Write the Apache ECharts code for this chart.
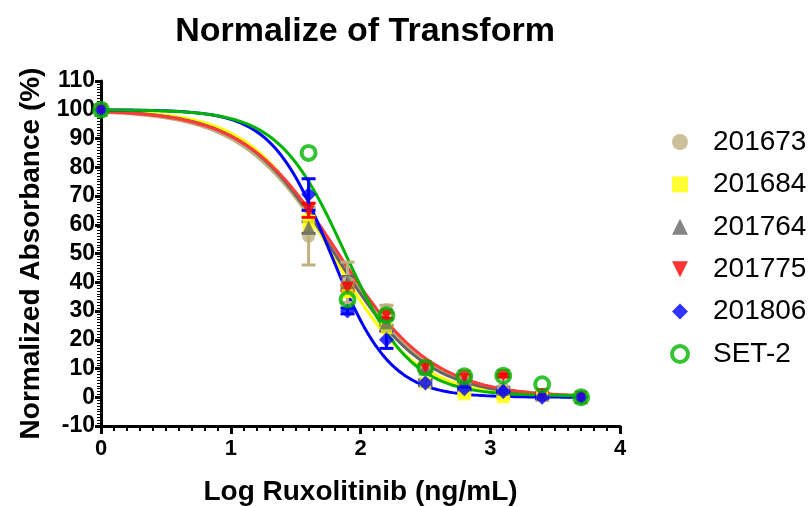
<!DOCTYPE html>
<html>
<head>
<meta charset="utf-8">
<script src="https://cdn.jsdelivr.net/npm/echarts@6/dist/echarts.min.js"></script>
<style>
html,body{margin:0;padding:0;background:#fff;}
#chart{width:808px;height:506px;}
</style>
</head>
<body>
<div id="chart"></div>
<script>
// Log concentration (x values)
const logConc = [0, 1.6, 1.9, 2.2, 2.5, 2.8, 3.1, 3.4, 3.7];
const seriesNames = ['201673', '201684', '201764', '201775', '201806', 'SET-2'];
// Mean normalized absorbance (%)
const v201673 = [100, 56, 40, 30.5, 10, 6, 3, 1, 0];
const v201684 = [100, 60, 37, 24, 5, 1, 0, 0.5, 0];
const v201764 = [100, 59, 40, 26, 10, 6, 3, 1, 0];
const v201775 = [100, 65, 38, 28.5, 10.5, 7.3, 7.5, 1, 0];
const v201806 = [100, 70.5, 30, 20, 5, 3, 2, 0, 0];
const vSET2   = [100, 85, 34, 28.5, 10.3, 7.3, 7.5, 4.5, 0];
// Error (SEM)
const e201673 = [0, 10, 7, 1.5, 1, 1, 0.5, 0.5, 0];
const e201684 = [0, 3, 2, 1, 1, 0.5, 0.5, 0.5, 0];
const e201764 = [0, 2, 2, 1, 1, 0.5, 0.5, 0.5, 0];
const e201775 = [0, 2.5, 1, 1, 1, 0.5, 0.5, 0.5, 0];
const e201806 = [0, 5.5, 1, 3, 1, 0.5, 0.5, 0.5, 0];
const eSET2   = [0, 0, 0, 0, 0, 0, 0, 0, 0];
// Fitted 4PL parameters: [top, bottom, logIC50, hillSlope]
const fit201673 = [100, 0, 1.80, 1.20];
const fit201684 = [100, 0, 1.78, 1.35];
const fit201764 = [100, 0, 1.80, 1.25];
const fit201775 = [100, 0, 1.83, 1.20];
const fit201806 = [100, 0, 1.77, 1.90];
const fitSET2   = [100, 0.5, 1.88, 1.70];
// Axis ticks
const xTicks = [0, 1, 2, 3, 4];
const yTicks = [-10, 0, 10, 20, 30, 40, 50, 60, 70, 80, 90, 100, 110];

const values = [v201673, v201684, v201764, v201775, v201806, vSET2];
const errors = [e201673, e201684, e201764, e201775, e201806, eSET2];
const fits = [fit201673, fit201684, fit201764, fit201775, fit201806, fitSET2];

const colors = ['#BFB07F', '#FFFF00', '#666666', '#FF0000', '#0000FF', '#00B400'];
const lineColors = ['#BFB07F', '#FFFF00', '#666666', '#FF3B3B', '#0000FF', '#00B400'];
const lineWidths = [4, 3, 3, 3, 3, 3];
const symbols = ['circle', 'rect', 'triangle', 'triangle', 'diamond', 'circle'];
const symbolRot = [0, 0, 0, 180, 0, 0];
const symbolSizes = [13, 12, 14, 13, 15, 14];
const legendIcons = ['circle', 'rect', 'triangle', 'path://M0,0 L10,0 L5,10 Z', 'diamond', 'circle'];

function fitCurve(p) {
  const pts = [];
  for (let i = 0; i <= 370; i++) {
    const x = i / 100;
    const y = p[1] + (p[0] - p[1]) / (1 + Math.pow(10, (x - p[2]) * p[3]));
    pts.push([x, y]);
  }
  return pts;
}

const series = [];
fits.forEach((p, i) => {
  series.push({
    name: seriesNames[i] + ' fit',
    type: 'line',
    data: fitCurve(p),
    showSymbol: false,
    symbol: 'none',
    lineStyle: { color: lineColors[i], width: lineWidths[i] },
    z: 2 + i * 0.01,
    silent: true,
    animation: false
  });
});
errors.forEach((err, i) => {
  const col = colors[i];
  series.push({
    name: seriesNames[i] + ' err',
    type: 'custom',
    data: logConc.map((x, k) => [x, values[i][k], err[k]]),
    encode: { x: 0, y: 1 },
    z: 3,
    silent: true,
    animation: false,
    renderItem: function (params, api) {
      const x = api.value(0), y = api.value(1), e = api.value(2);
      if (!e) return null;
      const hi = api.coord([x, y + e]);
      const lo = api.coord([x, y - e]);
      const cw = 7;
      const st = { stroke: col, lineWidth: 3 };
      return {
        type: 'group',
        children: [
          { type: 'line', shape: { x1: hi[0], y1: hi[1], x2: lo[0], y2: lo[1] }, style: st },
          { type: 'line', shape: { x1: hi[0] - cw, y1: hi[1], x2: hi[0] + cw, y2: hi[1] }, style: st },
          { type: 'line', shape: { x1: lo[0] - cw, y1: lo[1], x2: lo[0] + cw, y2: lo[1] }, style: st }
        ]
      };
    }
  });
});
values.forEach((vals, i) => {
  const isRing = seriesNames[i] === 'SET-2';
  series.push({
    name: seriesNames[i],
    type: 'scatter',
    data: logConc.map((x, k) => [x, vals[k]]),
    symbol: symbols[i],
    symbolRotate: symbolRot[i],
    symbolSize: symbolSizes[i],
    itemStyle: isRing
      ? { color: 'rgba(255,255,255,0)', borderColor: colors[i], borderWidth: 4 }
      : { color: colors[i] },
    z: 4 + i * 0.01,
    animation: false
  });
});

const legendData = seriesNames.map((n, i) => {
  const item = { name: n, icon: legendIcons[i] };
  if (n === 'SET-2') {
    item.itemStyle = { color: 'rgba(255,255,255,0)', borderColor: colors[i], borderWidth: 4 };
  } else {
    item.itemStyle = { color: colors[i], borderWidth: 0 };
  }
  return item;
});

const FONT = 'Liberation Sans, Arial, sans-serif';
const chart = echarts.init(document.getElementById('chart'), null, { renderer: 'canvas' });
chart.setOption({
  backgroundColor: '#fff',
  animation: false,
  title: {
    text: 'Normalize of Transform',
    left: 360,
    top: 10,
    textAlign: 'center',
    textStyle: { fontFamily: FONT, fontWeight: 'bold', fontSize: 34, color: '#000' }
  },
  grid: { left: 101, right: 188, top: 81, bottom: 80, containLabel: false, outerBoundsMode: 'none' },
  legend: {
    data: legendData,
    orient: 'vertical',
    left: 665,
    top: 123,
    itemWidth: 16,
    itemHeight: 16,
    itemGap: 14.4,
    textStyle: { fontFamily: FONT, fontSize: 28, color: '#000', lineHeight: 28, padding: [0, 0, 0, 20] }
  },
  xAxis: {
    type: 'value',
    min: xTicks[0],
    max: xTicks[xTicks.length - 1],
    interval: 1,
    name: 'Log Ruxolitinib (ng/mL)',
    nameLocation: 'middle',
    nameGap: 52,
    nameTextStyle: { fontFamily: FONT, fontWeight: 'bold', fontSize: 28, color: '#000' },
    axisLine: { onZero: false, lineStyle: { color: '#000', width: 3 } },
    axisTick: { show: true, inside: false, length: 8, lineStyle: { color: '#000', width: 3 } },
    minorTick: { show: true, splitNumber: 10, length: 5, lineStyle: { color: '#000', width: 2 } },
    axisLabel: { fontFamily: FONT, fontWeight: 'bold', fontSize: 22, color: '#000', margin: 12 },
    splitLine: { show: false }
  },
  yAxis: {
    type: 'value',
    min: yTicks[0],
    max: yTicks[yTicks.length - 1],
    interval: 10,
    name: 'Normalized Absorbance (%)',
    nameLocation: 'middle',
    nameRotate: 90,
    nameGap: 55,
    nameTextStyle: { fontFamily: FONT, fontWeight: 'bold', fontSize: 28, color: '#000' },
    axisLine: { onZero: false, lineStyle: { color: '#000', width: 3 } },
    axisTick: { show: true, inside: false, length: 6, lineStyle: { color: '#000', width: 3 } },
    minorTick: { show: true, splitNumber: 10, length: 4, lineStyle: { color: '#000', width: 1 } },
    axisLabel: { fontFamily: FONT, fontWeight: 'bold', fontSize: 23, color: '#000', margin: 6 },
    splitLine: { show: false }
  },
  series: series
});
</script>
</body>
</html>
